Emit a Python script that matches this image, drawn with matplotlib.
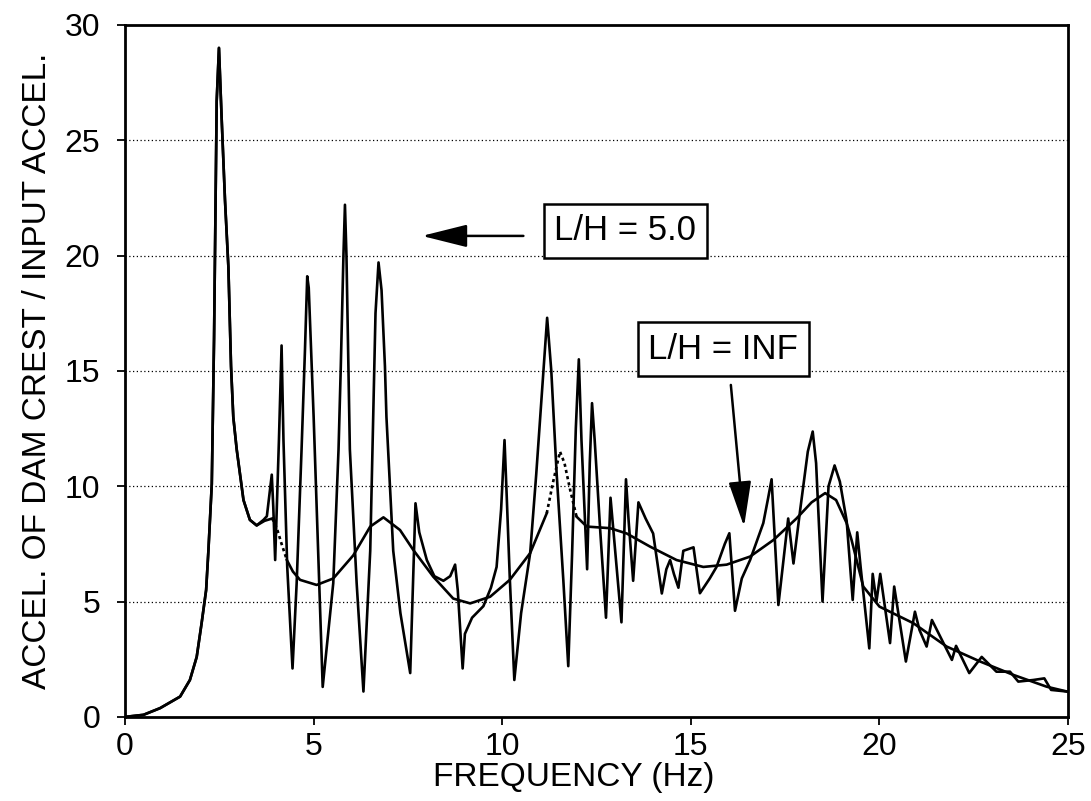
import matplotlib
matplotlib.use("Agg")
import matplotlib.pyplot as plt
import numpy as np

plt.rcParams['font.family'] = ['Liberation Sans', 'DejaVu Sans']

# L/H = 5.0 response
freq_5 = [0, 0.49, 0.93, 1.46, 1.72, 1.9, 2.03, 2.15, 2.21, 2.3, 2.36, 2.43, 2.49, 2.56, 2.65,
          2.74, 2.81, 2.87, 2.96, 3.14, 3.31, 3.49, 3.67, 3.76, 3.89, 3.93, 3.98, 4.08, 4.15, 4.2,
          4.3, 4.44, 4.55, 4.68, 4.77, 4.83, 4.87, 4.93, 5.0, 5.12, 5.24, 5.52, 5.66, 5.72, 5.79,
          5.83, 5.87, 5.92, 5.96, 6.14, 6.32, 6.5, 6.58, 6.64, 6.72, 6.8, 6.89, 6.93, 7.11, 7.3,
          7.56, 7.7, 7.8, 8.0, 8.2, 8.44, 8.62, 8.75, 8.82, 8.95, 9.01, 9.2, 9.5, 9.7, 9.85,
          9.97, 10.06, 10.12, 10.2, 10.32, 10.5, 10.74, 10.9, 11.05, 11.19, 11.3, 11.44, 11.62, 11.75, 11.85,
          11.95, 12.03, 12.1, 12.25, 12.32, 12.38, 12.45, 12.6, 12.75, 12.87, 12.95, 13.16, 13.28, 13.35, 13.47,
          13.61, 13.8, 14.0, 14.23, 14.35, 14.45, 14.55, 14.67, 14.8, 15.07, 15.24, 15.5, 15.68, 15.9, 16.02,
          16.17, 16.35, 16.57, 16.92, 17.05, 17.14, 17.32, 17.58, 17.72, 17.9, 18.1, 18.23, 18.32, 18.49, 18.65,
          18.81, 18.95, 19.13, 19.29, 19.41, 19.5, 19.73, 19.82, 19.92, 20.02, 20.28, 20.39, 20.7, 20.94, 21.06,
          21.25, 21.39, 21.92, 22.03, 22.38, 22.71, 23.1, 23.46, 23.68, 24.08, 24.37, 24.55, 24.97]
acc_5 = [0, 0.09, 0.38, 0.88, 1.6, 2.6, 4.06, 5.5, 7.2, 10.1, 16.4, 26.7, 29.0, 26.0, 22.4,
         19.5, 15.2, 13.0, 11.6, 9.4, 8.54, 8.3, 8.54, 8.7, 10.5, 9.1, 6.8, 12.0, 16.1, 12.0,
         6.5, 2.1, 5.8, 11.6, 15.9, 19.1, 18.6, 16.0, 13.0, 7.2, 1.3, 5.8, 11.6, 15.2, 20.0,
         22.2, 20.0, 15.2, 11.6, 5.8, 1.1, 7.2, 13.0, 17.5, 19.7, 18.5, 15.2, 13.0, 7.2, 4.5,
         1.9, 9.26, 8.0, 6.8, 6.1, 5.9, 6.1, 6.6, 5.5, 2.1, 3.6, 4.3, 4.8, 5.6, 6.5,
         9.0, 12.0, 9.5, 6.0, 1.6, 4.5, 7.1, 10.5, 14.0, 17.3, 15.0, 10.6, 5.9, 2.2, 7.0,
         12.5, 15.5, 12.0, 6.4, 11.0, 13.6, 12.0, 8.0, 4.3, 9.5, 8.0, 4.1, 10.3, 8.5, 5.9,
         9.3, 8.6, 7.95, 5.35, 6.4, 6.8, 6.2, 5.6, 7.2, 7.35, 5.36, 6.0, 6.5, 7.5, 7.96,
         4.6, 6.0, 6.8, 8.4, 9.5, 10.3, 4.85, 8.6, 6.65, 9.0, 11.5, 12.37, 11.0, 5.0, 10.0,
         10.9, 10.2, 8.5, 5.07, 8.0, 6.5, 2.97, 6.2, 5.0, 6.2, 3.2, 5.65, 2.4, 4.56, 3.77,
         3.05, 4.2, 2.47, 3.08, 1.9, 2.6, 1.96, 1.96, 1.53, 1.6, 1.67, 1.17, 1.1]

# L/H = INF response
freq_inf = [0, 0.49, 0.93, 1.46, 1.72, 1.9, 2.03, 2.15, 2.21, 2.3, 2.36, 2.43, 2.49, 2.56, 2.65,
            2.74, 2.81, 2.87, 2.96, 3.14, 3.31, 3.49, 3.7, 3.9, 4.02, 4.15, 4.29, 4.45, 4.64, 5.08,
            5.52, 6.05, 6.5, 6.85, 7.29, 7.64, 8.17, 8.7, 9.15, 9.68, 10.2, 10.74, 11.18, 11.35, 11.53,
            11.65, 11.8, 11.97, 12.24, 12.86, 13.3, 13.92, 14.62, 15.33, 15.95, 16.57, 17.19, 17.8, 18.2, 18.56,
            18.85, 19.13, 19.26, 19.57, 20.0, 20.9, 21.78, 22.67, 23.55, 24.43, 24.97]
acc_inf = [0, 0.09, 0.38, 0.88, 1.6, 2.6, 4.06, 5.5, 7.2, 10.1, 16.4, 26.7, 29.0, 26.0, 22.4,
           19.5, 15.2, 13.0, 11.6, 9.4, 8.54, 8.3, 8.5, 8.6, 8.2, 7.5, 6.8, 6.3, 5.94, 5.72,
           6.0, 7.0, 8.25, 8.65, 8.1, 7.24, 6.08, 5.13, 4.92, 5.21, 5.94, 7.1, 8.83, 10.2, 11.5,
           11.0, 9.84, 8.68, 8.25, 8.18, 7.95, 7.38, 6.8, 6.5, 6.6, 6.95, 7.67, 8.6, 9.3, 9.7,
           9.4, 8.4, 7.67, 5.65, 4.78, 4.06, 3.05, 2.4, 1.82, 1.31, 1.1]
# frequency ranges where the INF curve is drawn dotted
inf_dotted = [(3.9, 4.29), (11.18, 11.97)]

xticks = [0, 5, 10, 15, 20, 25]
yticks = [0, 5, 10, 15, 20, 25, 30]

fig = plt.figure(figsize=(10.91, 8.01), dpi=100)
ax = fig.add_axes([0.1146, 0.105, 0.8644, 0.864])

for y in yticks[1:-1]:
    ax.axhline(y, color='black', lw=0.9, ls=(0, (1, 2)), zorder=1)

lw = 1.9
ax.plot(freq_5, acc_5, color='black', lw=lw, zorder=3)

fi = np.array(freq_inf)
ai = np.array(acc_inf)
dotted_mask = np.zeros(len(fi), dtype=bool)
for a, b in inf_dotted:
    dotted_mask |= (fi >= a) & (fi <= b)
solid = np.where(dotted_mask, np.nan, ai)
for a, b in inf_dotted:
    for v in (a, b):
        idx = np.argmin(np.abs(fi - v))
        solid[idx] = ai[idx]
ax.plot(fi, solid, color='black', lw=lw, zorder=3)
for a, b in inf_dotted:
    m = (fi >= a) & (fi <= b)
    ax.plot(fi[m], ai[m], color='black', lw=lw, ls=(0, (1.2, 1.2)), zorder=3)

ax.set_xlim(0, 25)
ax.set_ylim(0, 30)
ax.set_xticks(xticks)
ax.set_yticks(yticks)
ax.tick_params(direction='out', length=6, width=1.3, labelsize=23)
ax.tick_params(axis='x', pad=5)
ax.tick_params(axis='y', pad=12)
for s in ax.spines.values():
    s.set_linewidth(2.0)

ax.set_xlabel('FREQUENCY (Hz)', fontsize=24, labelpad=0)
ax.xaxis.set_label_coords(0.476, -0.065)
ax.set_ylabel('ACCEL. OF DAM CREST / INPUT ACCEL.', fontsize=24, labelpad=8)

box = dict(boxstyle='square,pad=0.3', fc='white', ec='black', lw=1.8)
ax.text(13.26, 21.07, 'L/H = 5.0', fontsize=25, ha='center', va='center', bbox=box, zorder=5)
ax.text(15.86, 15.94, 'L/H = INF', fontsize=25, ha='center', va='center', bbox=box, zorder=5)

arrow = dict(arrowstyle='-|>,head_length=1.4,head_width=0.35', color='black', lw=1.8,
             mutation_scale=20, shrinkA=0, shrinkB=0)
ax.annotate('', xy=(7.87, 20.85), xytext=(10.56, 20.85), arrowprops=arrow, zorder=6)
ax.annotate('', xy=(16.41, 8.25), xytext=(16.06, 14.39), arrowprops=arrow, zorder=6)

fig.savefig('out.png', dpi=100)
